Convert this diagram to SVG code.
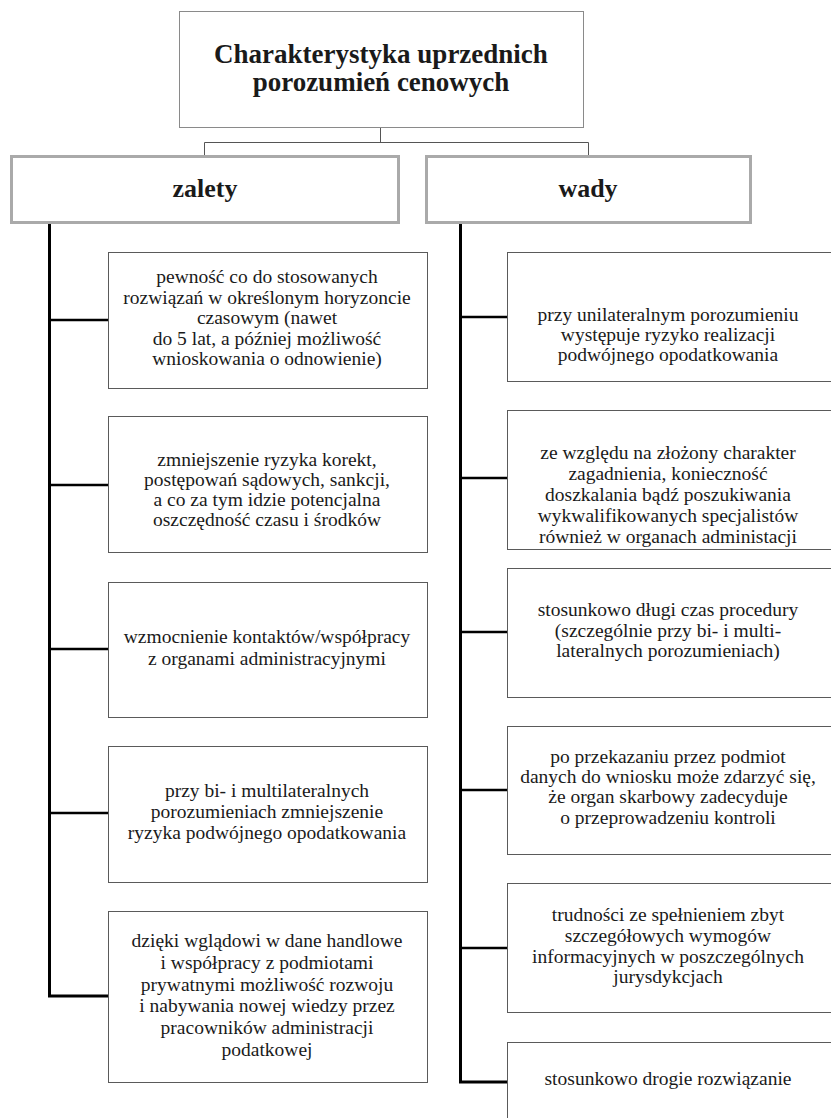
<svg xmlns="http://www.w3.org/2000/svg" width="831" height="1118" viewBox="0 0 831 1118">
<style>
.title{font-weight:bold;font-size:27px;fill:#1a1a1a;text-anchor:middle}
.head{font-weight:bold;font-size:26px;fill:#1a1a1a;text-anchor:middle}
.t{font-size:19.5px;fill:#1a1a1a;text-anchor:middle}
.box{fill:#fff;stroke:#5a5a5a;stroke-width:1}
.tbox{fill:#fff;stroke:#8a8a8a;stroke-width:1}
.hbox{fill:#fff;stroke:#aaaaaa;stroke-width:3}
.thin{fill:none;stroke:#555;stroke-width:1}
.spine{fill:none;stroke:#000;stroke-width:3}
.br{fill:none;stroke:#000;stroke-width:2.5}
</style>
<rect width="831" height="1118" fill="#fff"/>
<g id="connectors">
<path class="thin" d="M380.5 127V142.5M204.5 156V142.5H588.5V156"/>
<path class="spine" d="M49.5 222V996H108"/>
<path class="br" d="M49.5 320H108M49.5 485H108M49.5 649H108M49.5 813H108"/>
<path class="spine" d="M460.5 222V1082H507"/>
<path class="br" d="M460.5 317H507M460.5 478H507M460.5 632H507M460.5 790H507M460.5 948H507"/>
</g>
<g font-family="Liberation Serif, Times New Roman, serif">
<g id="title"><rect class="tbox" x="179.5" y="11.5" width="404" height="116"/>
<text class="title" x="381" y="63">Charakterystyka uprzednich</text>
<text class="title" x="381" y="91">porozumień cenowych</text></g>
<g id="zalety"><rect class="hbox" x="11.5" y="156.5" width="387" height="66"/>
<text class="head" x="205" y="197">zalety</text></g>
<g id="wady"><rect class="hbox" x="426.5" y="156.5" width="324" height="66"/>
<text class="head" x="588" y="197">wady</text></g>
<g id="z1"><rect class="box" x="108.5" y="252.5" width="319" height="136"/>
<text class="t"><tspan x="267" y="283">pewność co do stosowanych</tspan><tspan x="267" y="304">rozwiązań w określonym horyzoncie</tspan><tspan x="267" y="324">czasowym (nawet</tspan><tspan x="267" y="345">do 5 lat, a później możliwość</tspan><tspan x="267" y="365">wnioskowania o odnowienie)</tspan></text></g>
<g id="z2"><rect class="box" x="108.5" y="416.5" width="319" height="136"/>
<text class="t"><tspan x="267" y="466">zmniejszenie ryzyka korekt,</tspan><tspan x="267" y="486">postępowań sądowych, sankcji,</tspan><tspan x="267" y="506">a co za tym idzie potencjalna</tspan><tspan x="267" y="526">oszczędność czasu i środków</tspan></text></g>
<g id="z3"><rect class="box" x="108.5" y="582.5" width="319" height="135"/>
<text class="t"><tspan x="267" y="643">wzmocnienie kontaktów/współpracy</tspan><tspan x="267" y="665">z organami administracyjnymi</tspan></text></g>
<g id="z4"><rect class="box" x="108.5" y="746.5" width="319" height="136"/>
<text class="t"><tspan x="267" y="797">przy bi- i multilateralnych</tspan><tspan x="267" y="818">porozumieniach zmniejszenie</tspan><tspan x="267" y="839">ryzyka podwójnego opodatkowania</tspan></text></g>
<g id="z5"><rect class="box" x="108.5" y="911.5" width="319" height="171"/>
<text class="t"><tspan x="267" y="947">dzięki wglądowi w dane handlowe</tspan><tspan x="267" y="969">i współpracy z podmiotami</tspan><tspan x="267" y="991">prywatnymi możliwość rozwoju</tspan><tspan x="267" y="1012">i nabywania nowej wiedzy przez</tspan><tspan x="267" y="1034">pracowników administracji</tspan><tspan x="267" y="1056">podatkowej</tspan></text></g>
<g id="w1"><rect class="box" x="507.5" y="252.5" width="330" height="129"/>
<text class="t"><tspan x="668" y="321">przy unilateralnym porozumieniu</tspan><tspan x="668" y="341">występuje ryzyko realizacji</tspan><tspan x="668" y="361">podwójnego opodatkowania</tspan></text></g>
<g id="w2"><rect class="box" x="507.5" y="410.5" width="330" height="139"/>
<text class="t"><tspan x="668" y="459">ze względu na złożony charakter</tspan><tspan x="668" y="480">zagadnienia, konieczność</tspan><tspan x="668" y="501">doszkalania bądź poszukiwania</tspan><tspan x="668" y="522">wykwalifikowanych specjalistów</tspan><tspan x="668" y="543">również w organach administacji</tspan></text></g>
<g id="w3"><rect class="box" x="507.5" y="568.5" width="330" height="129"/>
<text class="t"><tspan x="668" y="616">stosunkowo długi czas procedury</tspan><tspan x="668" y="637">(szczególnie przy bi- i multi-</tspan><tspan x="668" y="657">lateralnych porozumieniach)</tspan></text></g>
<g id="w4"><rect class="box" x="507.5" y="726.5" width="330" height="128"/>
<text class="t"><tspan x="668" y="763">po przekazaniu przez podmiot</tspan><tspan x="668" y="783">danych do wniosku może zdarzyć się,</tspan><tspan x="668" y="803">że organ skarbowy zadecyduje</tspan><tspan x="668" y="824">o przeprowadzeniu kontroli</tspan></text></g>
<g id="w5"><rect class="box" x="507.5" y="883.5" width="330" height="129"/>
<text class="t"><tspan x="668" y="921">trudności ze spełnieniem zbyt</tspan><tspan x="668" y="942">szczegółowych wymogów</tspan><tspan x="668" y="963">informacyjnych w poszczególnych</tspan><tspan x="668" y="983">jurysdykcjach</tspan></text></g>
<g id="w6"><rect class="box" x="507.5" y="1042.5" width="330" height="100"/>
<text class="t"><tspan x="668" y="1085">stosunkowo drogie rozwiązanie</tspan></text></g>
</g>
</svg>
